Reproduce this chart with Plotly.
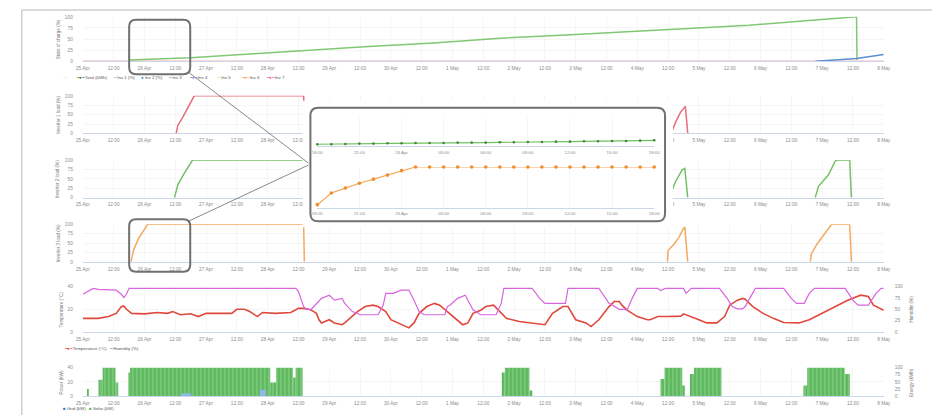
import plotly.graph_objects as go
import pandas as pd

W, H = 939, 418
T0 = pd.Timestamp("2024-04-25 00:00")
T_END = "2024-05-08 00:00"

# ---------------- data ----------------
tick_vals = ["2024-04-25 00:00", "2024-04-25 12:00", "2024-04-26 00:00", "2024-04-26 12:00",
             "2024-04-27 00:00", "2024-04-27 12:00", "2024-04-28 00:00", "2024-04-28 12:00",
             "2024-04-29 00:00", "2024-04-29 12:00", "2024-04-30 00:00", "2024-04-30 12:00",
             "2024-05-01 00:00", "2024-05-01 12:00", "2024-05-02 00:00", "2024-05-02 12:00",
             "2024-05-03 00:00", "2024-05-03 12:00", "2024-05-04 00:00", "2024-05-04 12:00",
             "2024-05-05 00:00", "2024-05-05 12:00", "2024-05-06 00:00", "2024-05-06 12:00",
             "2024-05-07 00:00", "2024-05-07 12:00", "2024-05-08 00:00"]
tick_text = ["25 Apr", "12:00", "26 Apr", "12:00", "27 Apr", "12:00", "28 Apr", "12:00",
             "29 Apr", "12:00", "30 Apr", "12:00", "1 May", "12:00", "2 May", "12:00",
             "3 May", "12:00", "4 May", "12:00", "5 May", "12:00", "6 May", "12:00",
             "7 May", "12:00", "8 May"]

# panel 1: state of charge
soc_time = ["2024-04-25 18:00", "2024-04-26 18:00", "2024-04-27 18:30", "2024-04-28 21:20",
            "2024-04-29 15:20", "2024-04-30 16:40", "2024-05-01 18:30", "2024-05-02 20:10",
            "2024-05-03 16:30", "2024-05-04 18:15", "2024-05-05 19:35", "2024-05-06 21:20",
            "2024-05-07 13:25", "2024-05-07 13:35"]
soc_value = [2.7, 8, 17, 27, 33, 41, 52, 59, 65, 74, 81, 93, 100, 3]
soc2_time = ["2024-05-06 21:20", "2024-05-07 13:25", "2024-05-08 00:00"]
soc2_value = [0, 6, 15]
base_time = ["2024-04-25 00:00", "2024-05-08 00:00"]
base_value = [0, 0]

# panels 2-4: inverter loads
inv1_time = ["2024-04-26 12:22", "2024-04-26 12:59", "2024-04-26 14:54", "2024-04-26 16:49",
             "2024-04-26 19:24", "2024-04-28 14:01", "2024-04-28 14:24", None,
             "2024-05-04 13:38", "2024-05-04 14:55", "2024-05-04 16:49", "2024-05-04 18:07",
             "2024-05-04 18:44", "2024-05-04 19:39"]
inv1_value = [0, 21, 43, 69, 100, 100, 0, None, 8, 30, 56, 69, 72, 0]

inv2_time = ["2024-04-26 11:43", "2024-04-26 12:59", "2024-04-26 15:33", "2024-04-26 17:28",
             "2024-04-26 18:44", "2024-04-28 14:01", "2024-04-28 14:17", None,
             "2024-05-04 12:22", "2024-05-04 14:55", "2024-05-04 17:28", "2024-05-04 18:30",
             "2024-05-04 19:39", None,
             "2024-05-06 21:19", "2024-05-06 22:35", "2024-05-07 02:25", "2024-05-07 04:59",
             "2024-05-07 05:38", "2024-05-07 10:45", "2024-05-07 11:24"]
inv2_value = [0, 34, 65, 87, 100, 100, 0, None, 0, 43, 74, 78, 0, None, 0, 30, 60, 96, 100, 100, 0]

inv3_time = ["2024-04-25 18:49", "2024-04-25 19:42", "2024-04-25 21:37", "2024-04-26 00:12",
             "2024-04-26 01:13", "2024-04-28 14:01", "2024-04-28 14:17", None,
             "2024-05-04 11:43", "2024-05-04 11:59", "2024-05-04 14:17", "2024-05-04 16:12",
             "2024-05-04 17:51", "2024-05-04 18:30", "2024-05-04 19:39", None,
             "2024-05-06 19:24", "2024-05-06 19:47", "2024-05-06 21:58", "2024-05-07 01:09",
             "2024-05-07 03:43", "2024-05-07 10:45", "2024-05-07 11:24"]
inv3_value = [0, 30, 61, 91, 100, 100, 0, None, 0, 30, 47, 65, 87, 93, 0, None,
              0, 21, 47, 78, 100, 100, 0]

# panel 5: hours after 25 Apr 00:00
temp_hours = [0, 6, 10, 13, 15, 16, 17, 19, 24, 29, 33, 35, 38, 42, 45, 48, 58, 60, 63, 65,
              68, 70, 75, 81, 84, 86, 88, 89, 91, 92, 93, 96, 98, 101, 102, 105, 107, 110, 113, 115,
              118, 120, 123, 127, 129, 131, 134, 137, 139, 142, 146, 148, 150, 152, 155, 157, 160, 162, 165, 170,
              175, 180, 183, 187, 189, 192, 196, 198, 201, 205, 207, 209, 210, 212, 216, 220, 221, 224, 228, 233,
              234, 237, 240, 243, 247, 250, 252, 255, 257, 258, 261, 265, 269, 273, 279, 283, 288, 293, 298, 303,
              306, 308, 311, 312]
temp_value = [12.0, 12.0, 13.6, 16.4, 22.4, 22.8, 20.0, 16.4, 16.0, 17.2, 16.4, 18.0, 15.2, 16.0, 13.6, 16.4, 16.4, 20.0, 20.0, 18.0,
              13.6, 17.2, 16.4, 17.2, 20.8, 20.8, 20.0, 19.2, 16.4, 10.8, 8.0, 10.8, 8.0, 6.4, 8.0, 13.6, 18.0, 22.4, 23.6, 22.4,
              18.0, 10.8, 8.0, 3.6, 8.0, 16.4, 22.4, 25.2, 23.6, 18.0, 10.8, 6.4, 8.0, 16.4, 19.2, 22.4, 23.6, 19.2, 12.0, 9.2,
              8.0, 6.4, 16.4, 22.4, 22.4, 10.8, 8.0, 4.8, 10.8, 22.4, 26.8, 26.8, 23.6, 19.2, 13.6, 10.8, 10.8, 13.6, 13.6, 14.0,
              16.0, 13.6, 10.8, 8.0, 8.0, 13.6, 23.6, 28.0, 29.6, 28.8, 22.4, 16.4, 12.0, 8.4, 8.0, 10.8, 16.4, 22.4, 28.0, 32.4,
              31.2, 23.6, 20.8, 19.2]
hum_hours = [0, 3, 4, 6, 13, 15, 16, 17, 18, 83, 84, 86, 87, 89, 91, 93, 96, 98, 101, 102,
             105, 108, 115, 117, 118, 121, 124, 127, 129, 131, 133, 141, 142, 143, 146, 149, 150, 152, 155, 161,
             163, 164, 175, 178, 180, 188, 189, 201, 205, 209, 211, 212, 214, 216, 224, 225, 227, 234, 235, 237,
             248, 251, 253, 255, 257, 258, 262, 273, 276, 278, 281, 283, 285, 297, 300, 302, 306, 309, 311, 312]
hum_value = [83, 94, 96, 94, 92, 83, 76, 83, 96, 96, 89, 56, 50, 50, 62, 74, 81, 70, 74, 63,
             45, 38, 38, 59, 85, 85, 92, 92, 70, 45, 38, 38, 56, 59, 74, 81, 70, 49, 38, 38,
             63, 96, 96, 74, 63, 63, 96, 96, 63, 50, 50, 48, 74, 96, 96, 91, 96, 96, 85, 96,
             96, 74, 56, 51, 51, 56, 96, 96, 74, 63, 63, 85, 96, 96, 70, 59, 59, 85, 96, 96]

# panel 6: bars (hours after 25 Apr 00:00)
pv_start_h = [1.6, 6.1, 7.7, 12.7, 17.7, 18.4, 73.0, 75.3, 81.8, 82.9, 163.2, 164.4, 174.0,
              225.0, 226.6, 233.5, 236.5, 238.1, 280.7, 282.2, 296.8]
pv_end_h = [2.4, 7.7, 12.7, 13.8, 18.4, 73.0, 75.3, 81.8, 82.9, 85.6, 164.4, 174.0, 175.1,
            226.6, 233.5, 234.6, 238.1, 248.8, 282.2, 296.8, 298.8]
pv_kw = [10, 23, 40, 19, 33, 40, 19, 40, 26, 40, 33, 40, 8, 24, 40, 15, 31, 40, 15, 40, 31]
grid_start_h = [38.5, 69.0]
grid_end_h = [42.2, 71.4]
grid_kw = [4, 9]

# inset (zoom of 25 Apr 18:00 - 26 Apr 18:00)
inset_time = ["2024-04-25 18:00", "2024-04-25 19:00", "2024-04-25 20:00", "2024-04-25 21:00",
              "2024-04-25 22:00", "2024-04-25 23:00", "2024-04-26 00:00", "2024-04-26 01:00",
              "2024-04-26 02:00", "2024-04-26 03:00", "2024-04-26 04:00", "2024-04-26 05:00",
              "2024-04-26 06:00", "2024-04-26 07:00", "2024-04-26 08:00", "2024-04-26 09:00",
              "2024-04-26 10:00", "2024-04-26 11:00", "2024-04-26 12:00", "2024-04-26 13:00",
              "2024-04-26 14:00", "2024-04-26 15:00", "2024-04-26 16:00", "2024-04-26 17:00",
              "2024-04-26 18:00"]
inset_soc = [2.7, 2.7, 3.1, 3.6, 3.6, 4.0, 4.0, 4.4, 4.4, 4.4, 4.9, 4.9, 4.9, 5.3, 5.3, 5.8,
             5.8, 6.2, 6.2, 6.7, 6.7, 7.1, 7.1, 7.6, 8.0]
inset_inv3 = [7, 36, 48, 60, 70, 80, 91, 100, 100, 100, 100, 100, 100, 100, 100, 100,
              100, 100, 100, 100, 100, 100, 100, 100, 100]
inset_tick_vals = ["2024-04-25 18:00", "2024-04-25 21:00", "2024-04-26 00:00", "2024-04-26 03:00",
                   "2024-04-26 06:00", "2024-04-26 09:00", "2024-04-26 12:00", "2024-04-26 15:00",
                   "2024-04-26 18:00"]
inset_tick_text = ["18:00", "21:00", "26 Apr", "03:00", "06:00", "09:00", "12:00", "15:00", "18:00"]

legend1_symbols = ["╌╌", "━●━", "━", "●", "━", "━●━", "━", "━●━", "━●━"]
legend1_labels = ["", "Total (kWh)", "Inv 1 (%)", "Inv 2 (%)", "Inv 3", "Inv 4", "Inv 5", "Inv 6", "Inv 7"]
legend1_colors = ["#c8c8c8", "#3f7f3a", "#7cb5ec", "#2f7ed8", "#9a9a9a", "#8085e9", "#e4d354", "#f7a35c", "#f15c80"]
legend1_x = [55, 68, 106, 134, 161, 183, 211, 236, 261]

titles = ["State of charge (%)", "Inverter 1 load (%)", "Inverter 2 load (%)", "Inverter 3 load (%)",
          "Temperature (°C)", "Power (kW)"]
right_titles = ["Humidity (%)", "Energy (kWh)"]

# ---------------- helpers ----------------
FONT = "Liberation Sans, Arial, sans-serif"
TICK_FONT = dict(family=FONT, size=4.8, color="#8c8c8c")


def hx(hours):
    return [T0 + pd.Timedelta(hours=h) for h in hours]


def xd(a, b):
    return [a / W, b / W]


def yd(top, bottom):
    return [1 - bottom / H, 1 - top / H]


fig = go.Figure()


def line(x, y, color, xa, ya, width=1.4, **kw):
    fig.add_trace(go.Scatter(x=x, y=y, mode="lines", line=dict(color=color, width=width),
                             xaxis=xa, yaxis=ya, showlegend=False, hoverinfo="skip",
                             cliponaxis=False, **kw))


# panel 1
line(base_time, base_value, "#f45b5b", "x", "y", 1)
line(soc_time, soc_value, "#80c873", "x", "y", 1.5)
line(soc2_time, soc2_value, "#5b8fd0", "x", "y", 1.5)
# panels 2-4
line(inv1_time, inv1_value, "#e66d7a", "x2", "y2", 1.5)
line(inv2_time, inv2_value, "#74c067", "x3", "y3", 1.5)
line(inv3_time, inv3_value, "#f5a95f", "x4", "y4", 1.5)
# panel 5
line(hx(temp_hours), temp_value, "#e0483d", "x5", "y5", 1.6)
line(hx(hum_hours), hum_value, "#d964e0", "x5", "y7", 1.2)
# panel 6
pv_x = hx(pv_start_h)
pv_w = [(e - s) * 3600 * 1000 for s, e in zip(pv_start_h, pv_end_h)]
fig.add_trace(go.Bar(x=pv_x, y=pv_kw, width=pv_w, offset=0, xaxis="x6", yaxis="y6",
                     marker=dict(color="#5cb85c", line=dict(width=0),
                                 pattern=dict(shape="|", fgcolor="white", bgcolor="#5cb85c",
                                              size=4, solidity=0.18)),
                     showlegend=False, hoverinfo="skip"))
gr_x = hx(grid_start_h)
gr_w = [(e - s) * 3600 * 1000 for s, e in zip(grid_start_h, grid_end_h)]
fig.add_trace(go.Bar(x=gr_x, y=grid_kw, width=gr_w, offset=0, xaxis="x6", yaxis="y6",
                     marker=dict(color="#8fb8e8", line=dict(width=0)),
                     showlegend=False, hoverinfo="skip"))
fig.add_trace(go.Scatter(x=[], y=[], xaxis="x6", yaxis="y8", showlegend=False, hoverinfo="skip"))
# dummy subplot that carries the white inset frame
fig.add_trace(go.Scatter(x=[], y=[], xaxis="x7", yaxis="y9", showlegend=False, hoverinfo="skip"))
# inset plots
fig.add_trace(go.Scatter(x=inset_time, y=inset_soc, mode="lines+markers", xaxis="x8", yaxis="y10",
                         line=dict(color="#72bf63", width=1.2),
                         marker=dict(color="#3f8a35", size=2.6), cliponaxis=False,
                         showlegend=False, hoverinfo="skip"))
fig.add_trace(go.Scatter(x=inset_time, y=inset_inv3, mode="lines+markers", xaxis="x9", yaxis="y11",
                         line=dict(color="#f5a95f", width=1.2),
                         marker=dict(color="#f08c2a", size=3.6), cliponaxis=False,
                         showlegend=False, hoverinfo="skip"))


def main_x(anchor):
    return dict(type="date", domain=xd(77, 890), range=["2024-04-25 00:00", T_END], anchor=anchor,
                tickmode="array", tickvals=tick_vals, ticktext=tick_text, ticks="",
                showgrid=True, gridcolor="#f0f0f0", gridwidth=0.6, showline=True,
                linecolor="#ccd6eb", linewidth=1, zeroline=False, tickfont=TICK_FONT,
                ticklabelstandoff=2, fixedrange=True)


def main_y(anchor, top, bottom, rng, tv):
    return dict(domain=yd(top, bottom), range=rng, anchor=anchor, tickmode="array", tickvals=tv,
                ticks="", showgrid=True, gridcolor="#eeeeee", gridwidth=0.6, zeroline=False,
                showline=False, tickfont=TICK_FONT, ticklabelstandoff=9, fixedrange=True)


def right_y(over, anchor, tv):
    return dict(overlaying=over, side="right", anchor=anchor, range=[0, 100], tickmode="array",
                tickvals=tv, ticks="", showgrid=False, zeroline=False, showline=False,
                tickfont=TICK_FONT, ticklabelstandoff=10, fixedrange=True)


def inset_x(anchor):
    return dict(type="date", domain=xd(315, 657), range=["2024-04-25 18:00", "2024-04-26 18:00"],
                anchor=anchor, tickmode="array", tickvals=inset_tick_vals, ticktext=inset_tick_text,
                ticks="", showgrid=True, gridcolor="#f0f0f0", gridwidth=0.6, showline=True,
                linecolor="#ccd6eb", linewidth=1, zeroline=False,
                tickfont=dict(family=FONT, size=4.4, color="#8c8c8c"), ticklabelstandoff=1,
                fixedrange=True)


pct = [0, 25, 50, 75, 100]
layout = dict(
    width=W, height=H, margin=dict(l=0, r=0, t=0, b=0), autosize=False,
    paper_bgcolor="white", plot_bgcolor="white", showlegend=False, barmode="overlay",
    font=dict(family=FONT),
    xaxis=main_x("y"), yaxis=main_y("x", 15, 60, [0, 100], pct),
    xaxis2=main_x("y2"), yaxis2=main_y("x2", 95, 133, [0, 100], pct),
    xaxis3=main_x("y3"), yaxis3=main_y("x3", 160, 198, [0, 100], pct),
    xaxis4=main_x("y4"), yaxis4=main_y("x4", 225, 263, [0, 100], pct),
    xaxis5=main_x("y5"), yaxis5=main_y("x5", 288, 334, [0, 40], [0, 20, 40]),
    yaxis7=right_y("y5", "x5", pct),
    xaxis6=main_x("y6"), yaxis6=main_y("x6", 370, 399, [0, 40], [0, 20, 40]),
    yaxis8=right_y("y6", "x6", pct),
    xaxis7=dict(domain=xd(300, 676), range=[300, 676], anchor="y9", visible=False, fixedrange=True),
    yaxis9=dict(domain=yd(100, 228), range=[228, 100], anchor="x7", visible=False, fixedrange=True),
    xaxis8=inset_x("y10"),
    yaxis10=dict(domain=yd(116, 146), range=[0, 40], anchor="x8", showgrid=False,
                 showticklabels=False, zeroline=False, fixedrange=True),
    xaxis9=inset_x("y11"),
    yaxis11=dict(domain=yd(167, 208), range=[0, 100], anchor="x9", showgrid=False,
                 showticklabels=False, zeroline=False, fixedrange=True),
)


def rrect(x0, y0, x1, y1, r, X, Y, ry=None):
    ry = r if ry is None else ry
    return (f"M {X(x0 + r)},{Y(y0)} L {X(x1 - r)},{Y(y0)} Q {X(x1)},{Y(y0)} {X(x1)},{Y(y0 + ry)} "
            f"L {X(x1)},{Y(y1 - ry)} Q {X(x1)},{Y(y1)} {X(x1 - r)},{Y(y1)} "
            f"L {X(x0 + r)},{Y(y1)} Q {X(x0)},{Y(y1)} {X(x0)},{Y(y1 - ry)} "
            f"L {X(x0)},{Y(y0 + ry)} Q {X(x0)},{Y(y0)} {X(x0 + r)},{Y(y0)} Z")


PX = lambda v: v / W
PY = lambda v: 1 - v / H
ID = lambda v: v

shapes = [
    dict(type="line", xref="paper", yref="paper", x0=PX(15), x1=PX(939), y0=PY(8), y1=PY(8),
         line=dict(color="#cfcfcf", width=1.5), layer="below"),
    dict(type="line", xref="paper", yref="paper", x0=PX(15), x1=PX(15), y0=PY(8), y1=PY(418),
         line=dict(color="#cfcfcf", width=1.5), layer="below"),
    dict(type="path", xref="x7", yref="y9", path=rrect(308, 107, 668, 222, 8, ID, ID),
         fillcolor="white", line=dict(color="#707070", width=2), layer="between"),
    dict(type="path", xref="paper", yref="paper", path=rrect(124, 18, 186, 73, 7, PX, PY),
         fillcolor="rgba(0,0,0,0)", line=dict(color="#707070", width=2), layer="above"),
    dict(type="path", xref="paper", yref="paper", path=rrect(124, 220, 186, 273, 7, PX, PY),
         fillcolor="rgba(0,0,0,0)", line=dict(color="#707070", width=2), layer="above"),
    dict(type="line", xref="paper", yref="paper", x0=PX(184), y0=PY(71), x1=PX(306), y1=PY(163),
         line=dict(color="#555555", width=0.7), layer="above"),
    dict(type="line", xref="paper", yref="paper", x0=PX(184), y0=PY(222), x1=PX(306), y1=PY(165),
         line=dict(color="#555555", width=0.7), layer="above"),
]


def ann(text, x, y, size=4.8, angle=0, xanchor="left", color="#555555"):
    return dict(text=text, x=PX(x), y=PY(y), xref="paper", yref="paper", showarrow=False,
                textangle=angle, xanchor=xanchor, yanchor="middle",
                font=dict(family=FONT, size=size, color=color))


annotations = []
title_pos = [(52, 37.5), (52, 114), (52, 179), (52, 244), (55, 311), (55, 385)]
for t, (x, y) in zip(titles, title_pos):
    annotations.append(ann(t, x, y, 4.6, -90, "center", "#777777"))
for t, (x, y) in zip(right_titles, [(918, 311), (918, 385)]):
    annotations.append(ann(t, x, y, 4.6, -90, "center", "#777777"))
for sym, lab, col, x in zip(legend1_symbols, legend1_labels, legend1_colors, legend1_x):
    annotations.append(ann(f'<span style="color:{col}">{sym}</span> {lab}', x, 76, 4.4))
annotations.append(ann('<span style="color:#e0483d">━●━</span> Temperature (°C)', 56, 351, 4.4))
annotations.append(ann('<span style="color:#d964e0">━</span> Humidity (%)', 102, 351, 4.4))
annotations.append(ann('<span style="color:#2f7ed8">■</span> Grid (kW)', 55, 411, 4.4))
annotations.append(ann('<span style="color:#5cb85c">■</span> Solar (kW)', 81, 411, 4.4))

layout["shapes"] = shapes
layout["annotations"] = annotations
fig.update_layout(**layout)

fig.write_html("out.html", include_plotlyjs=True,
               config={"displayModeBar": False, "staticPlot": True},
               post_script="document.documentElement.style.margin='0';"
                           "document.body.style.margin='0';"
                           "document.body.style.overflow='hidden';")
